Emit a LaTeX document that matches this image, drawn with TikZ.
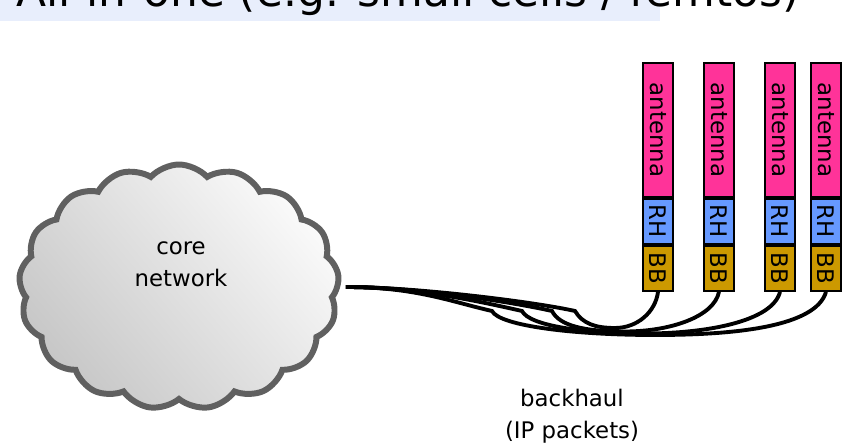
\documentclass[tikz,border=0pt]{standalone}
\usepackage{fontspec}
\setmainfont{DejaVu Sans}
\usetikzlibrary{shapes.symbols}

\definecolor{antpink}{RGB}{255,51,153}
\definecolor{rhblue}{RGB}{102,153,255}
\definecolor{bbgold}{RGB}{204,153,0}
\definecolor{titleband}{RGB}{232,238,252}
\definecolor{cloudline}{RGB}{96,96,96}

\begin{document}
\begin{tikzpicture}[
  every node/.style={font=\fontsize{13}{18}\selectfont},
  part/.style={
    draw,
    line width=1.1pt,
    rotate=-90,
    minimum height=0.6cm,
    inner sep=0pt
  },
  antbox/.style={part,fill=antpink,minimum width=2.68cm},
  rhbox/.style={part,fill=rhblue,minimum width=0.9cm},
  bbbox/.style={part,fill=bbgold,minimum width=0.9cm},
  corecloud/.style={
    cloud,
    cloud puffs=17,
    cloud puff arc=95,
    draw=cloudline,
    line width=3.4pt,
    top color=black!2,
    bottom color=black!22,
    shading angle=-50,
    minimum width=6.4cm,
    minimum height=4.9cm
  },
  cable/.style={line width=2.2pt,black,shorten <=3pt}
]
\useasboundingbox (0,0) rectangle (16.86,-8.96);
\fill[titleband] (0,0) rectangle (13.2,-0.43);
\node[anchor=base west,font=\fontsize{25}{30}\selectfont] (title) at (0.2,-0.13)
  {All-in-one (e.g. small cells / femtos)};

\node[corecloud] (core) at (3.58,-5.74) {};
\node[align=center] (corelbl) at (3.62,-5.28) {core\\network};

\node[antbox] (ant1) at (13.16,-2.60) {antenna};
\node[antbox] (ant2) at (14.38,-2.60) {antenna};
\node[antbox] (ant3) at (15.60,-2.60) {antenna};
\node[antbox] (ant4) at (16.52,-2.60) {antenna};
\node[rhbox,anchor=west] (rh1) at (ant1.east) {RH};
\node[rhbox,anchor=west] (rh2) at (ant2.east) {RH};
\node[rhbox,anchor=west] (rh3) at (ant3.east) {RH};
\node[rhbox,anchor=west] (rh4) at (ant4.east) {RH};
\node[bbbox,anchor=west] (bb1) at (rh1.east) {BB};
\node[bbbox,anchor=west] (bb2) at (rh2.east) {BB};
\node[bbbox,anchor=west] (bb3) at (rh3.east) {BB};
\node[bbbox,anchor=west] (bb4) at (rh4.east) {BB};

\coordinate (kink1) at (11.50,-6.22);
\coordinate (kink2) at (11.04,-6.22);
\coordinate (kink3) at (10.44,-6.22);
\coordinate (kink4) at (9.84,-6.22);
\coordinate (low1) at (12.30,-6.56);
\coordinate (low2) at (12.50,-6.63);
\coordinate (low3) at (12.90,-6.67);
\coordinate (low4) at (13.10,-6.70);

\draw[cable] (core.east) .. controls +(1.5,0) and +(-0.8,0.18) .. (kink1)
  .. controls +(0.15,-0.25) and +(-0.4,0) .. (low1)
  .. controls +(0.45,0) and +(-0.05,-0.4) .. (bb1.east);
\draw[cable] (core.east) .. controls +(1.5,0) and +(-0.8,0.18) .. (kink2)
  .. controls +(0.15,-0.3) and +(-0.8,0) .. (low2)
  .. controls +(0.9,0) and +(-0.1,-0.5) .. (bb2.east);
\draw[cable] (core.east) .. controls +(1.5,0) and +(-0.8,0.18) .. (kink3)
  .. controls +(0.15,-0.3) and +(-1.2,0) .. (low3)
  .. controls +(1.2,0) and +(-0.15,-0.6) .. (bb3.east);
\draw[cable] (core.east) .. controls +(1.5,0) and +(-0.8,0.18) .. (kink4)
  .. controls +(0.15,-0.3) and +(-1.6,0) .. (low4)
  .. controls +(1.6,0) and +(-0.2,-0.7) .. (bb4.east);

\node[align=center] (backhaul) at (11.44,-8.32) {backhaul\\(IP packets)};
\end{tikzpicture}
\end{document}
